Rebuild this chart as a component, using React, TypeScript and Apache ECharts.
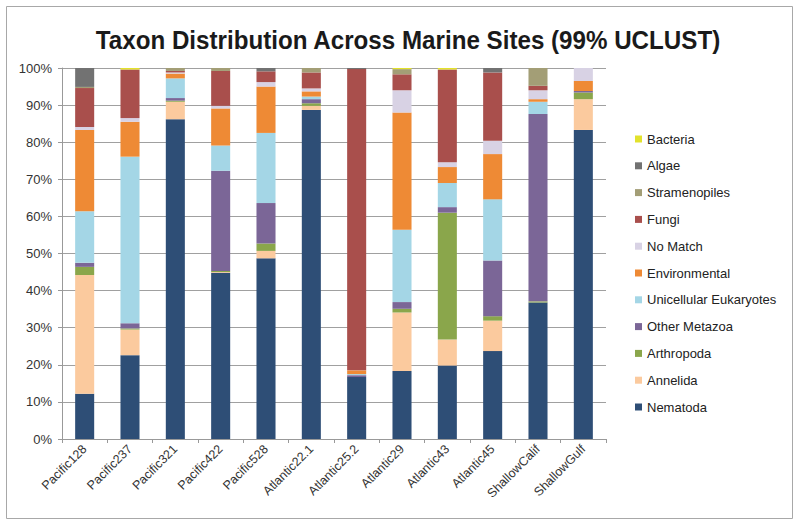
import React, { useEffect, useRef } from "react";
import * as echarts from "echarts";

const categories = ["Pacific128", "Pacific237", "Pacific321", "Pacific422", "Pacific528", "Atlantic22.1", "Atlantic25.2", "Atlantic29", "Atlantic43", "Atlantic45", "ShallowCalif", "ShallowGulf"];

const nematoda = [12.2, 22.6, 86.2, 44.8, 48.7, 88.7, 16.7, 18.3, 19.8, 23.7, 36.8, 83.3];
const annelida = [32.0, 6.9, 4.7, 0.2, 2.0, 1.1, 0, 15.8, 7.0, 8.2, 0, 8.3];
const arthropoda = [2.2, 0.3, 0.3, 0.3, 2.0, 0.7, 0, 1.0, 34.2, 1.2, 0.3, 1.8];
const otherMetazoa = [1.1, 1.4, 0.7, 27.0, 10.9, 1.1, 0.5, 1.8, 1.5, 15.0, 50.5, 0.4];
const unicellular = [13.9, 44.9, 5.3, 6.8, 18.9, 0.7, 0.3, 19.5, 6.5, 16.5, 3.3, 0];
const environmental = [21.9, 9.4, 1.3, 10.0, 12.5, 1.4, 1.0, 31.6, 4.3, 12.2, 0.7, 2.7];
const noMatch = [0.8, 1.0, 0.3, 0.7, 1.2, 0.8, 0, 6.0, 1.3, 3.6, 2.4, 3.5];
const fungi = [10.5, 13.1, 0.4, 9.4, 2.9, 4.3, 81.2, 4.3, 25.0, 18.4, 1.2, 0];
const stramenopiles = [0.3, 0, 1.0, 0.8, 0, 1.2, 0, 1.4, 0, 0, 4.8, 0];
const algae = [5.1, 0, 0, 0, 0.9, 0, 0.3, 0, 0, 1.2, 0, 0];
const bacteria = [0, 0.4, 0, 0, 0, 0, 0, 0.3, 0.4, 0, 0, 0];

const seriesDefs = [
  { name: "Nematoda", data: nematoda, color: "#2e4e76" },
  { name: "Annelida", data: annelida, color: "#fbca9e" },
  { name: "Arthropoda", data: arthropoda, color: "#8aa64b" },
  { name: "Other Metazoa", data: otherMetazoa, color: "#7b6697" },
  { name: "Unicellular Eukaryotes", data: unicellular, color: "#a4d6e6" },
  { name: "Environmental", data: environmental, color: "#ee8a35" },
  { name: "No Match", data: noMatch, color: "#d8d2e4" },
  { name: "Fungi", data: fungi, color: "#a94f4c" },
  { name: "Stramenopiles", data: stramenopiles, color: "#a39e76" },
  { name: "Algae", data: algae, color: "#727272" },
  { name: "Bacteria", data: bacteria, color: "#e2e22c" },
];

const legendOrder = ["Bacteria", "Algae", "Stramenopiles", "Fungi", "No Match", "Environmental", "Unicellular Eukaryotes", "Other Metazoa", "Arthropoda", "Annelida", "Nematoda"];

const TITLE = "Taxon Distribution Across Marine Sites (99% UCLUST)";
const FONT = '"Liberation Sans", Arial, Helvetica, sans-serif';

export default function App() {
  const ref = useRef<HTMLDivElement>(null);
  useEffect(() => {
    if (!ref.current) return;
    const chart = echarts.init(ref.current, null, { renderer: "svg" });
    chart.setOption({
      animation: false,
      backgroundColor: "#ffffff",
      graphic: [
        {
          type: "rect",
          shape: { x: 6.5, y: 6.5, width: 786, height: 512 },
          style: { fill: "none", stroke: "#a8a8a8", lineWidth: 1 },
          silent: true,
        },
        {
          type: "text",
          x: 408,
          y: 40,
          scaleX: 0.93,
          style: {
            text: TITLE,
            fill: "#1a1a1a",
            font: 'bold 26px "Liberation Sans", Arial, sans-serif',
            textAlign: "center",
            textVerticalAlign: "middle",
          },
          silent: true,
        },
      ],
      grid: { left: 62, right: 194, top: 68, bottom: 89, containLabel: false },
      legend: {
        orient: "vertical",
        left: 635,
        top: 132,
        padding: 0,
        data: legendOrder,
        icon: "rect",
        itemWidth: 7,
        itemHeight: 7,
        itemGap: 12.8,
        textStyle: { fontFamily: FONT, fontSize: 13, color: "#222", lineHeight: 14 },
        selectedMode: false,
      },
      xAxis: {
        type: "category",
        data: categories,
        boundaryGap: true,
        axisLine: { show: true, lineStyle: { color: "#999", width: 1 } },
        axisTick: { show: true, length: 4, lineStyle: { color: "#999" } },
        axisLabel: { rotate: 45, fontFamily: FONT, fontSize: 12.5, color: "#333", margin: 8, interval: 0 },
        splitLine: { show: false },
      },
      yAxis: {
        type: "value",
        min: 0,
        max: 100,
        interval: 10,
        axisLine: { show: true, lineStyle: { color: "#999", width: 1 } },
        axisTick: { show: true, length: 4, lineStyle: { color: "#999" } },
        axisLabel: { formatter: "{value}%", fontFamily: FONT, fontSize: 13, color: "#333", margin: 10 },
        splitLine: { show: true, lineStyle: { color: "#a0a0a0", width: 1 } },
      },
      series: seriesDefs.map((s) => ({
        name: s.name,
        type: "bar",
        stack: "total",
        data: s.data,
        barWidth: "42%",
        itemStyle: { color: s.color },
      })),
    });
    return () => chart.dispose();
  }, []);
  return <div ref={ref} style={{ width: 800, height: 528, position: "absolute", left: 0, top: 0 }} />;
}
